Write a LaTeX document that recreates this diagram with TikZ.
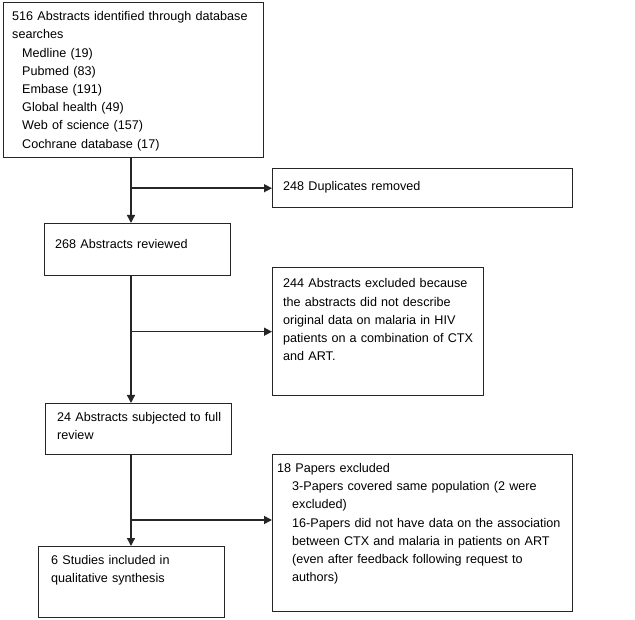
\documentclass[tikz,border=0pt]{standalone}
\usepackage{fontspec}
\setmainfont{Liberation Sans}
\usetikzlibrary{arrows.meta}
\begin{document}
\begin{tikzpicture}[x=1pt,y=-1pt,
  box/.style={draw=black!85,line width=1.4pt,inner sep=0pt,anchor=north west},
  txt/.style={anchor=base west,inner sep=0pt,align=left,text width=#1,font=\fontsize{12.6}{18.2}\selectfont},
  arr/.style={draw=black!85,line width=1.4pt,-{Triangle[length=8pt,width=8pt]}}]
\useasboundingbox (0,0) rectangle (635,620);
% boxes
\node[box,minimum width=260pt,minimum height=155pt] (b1) at (3,2) {};
\node[box,minimum width=300pt,minimum height=39pt] (dup) at (272,168) {};
\node[box,minimum width=186pt,minimum height=52pt] (r268) at (44,223) {};
\node[box,minimum width=211pt,minimum height=128pt] (ex244) at (272,267) {};
\node[box,minimum width=186pt,minimum height=51pt] (f24) at (45,403) {};
\node[box,minimum width=300pt,minimum height=157pt] (ex18) at (272,454) {};
\node[box,minimum width=186pt,minimum height=71pt] (inc6) at (38,546) {};
% texts
\node[txt=250pt] (t1) at (12,20.7) {516 Abstracts identified through database\\searches\\
\hspace*{10pt}Medline (19)\\\hspace*{10pt}Pubmed (83)\\\hspace*{10pt}Embase (191)\\
\hspace*{10pt}Global health (49)\\\hspace*{10pt}Web of science (157)\\\hspace*{10pt}Cochrane database (17)};
\node[txt=280pt] (tdup) at (283,190.7) {248 Duplicates removed};
\node[txt=180pt] (t268) at (55,249) {268 Abstracts reviewed};
\node[txt=200pt] (t244) at (283,288) {244 Abstracts excluded because\\the abstracts did not describe\\original data on malaria in HIV\\patients on a combination of CTX\\and ART.};
\node[txt=180pt] (t24) at (57,421) {24 Abstracts subjected to full\\review};
\node[txt=340pt] (t18) at (277,472.6) {18 Papers excluded\\
\hspace*{15pt}3-Papers covered same population (2 were\\\hspace*{15pt}excluded)\\
\hspace*{15pt}16-Papers did not have data on the association\\\hspace*{15pt}between CTX and malaria in patients on ART\\
\hspace*{15pt}(even after feedback following request to\\\hspace*{15pt}authors)};
\node[txt=180pt] (t6) at (51,564) {6 Studies included in\\qualitative synthesis};
% connectors
\coordinate (X) at (131,0);
\coordinate (br3) at (131,520);
\draw[arr] (b1.south -| X) -- (r268.north -| X);
\draw[arr] (X |- dup.west) -- (dup.west);
\draw[arr] (r268.south -| X) -- (f24.north -| X);
\draw[arr] (X |- ex244.west) -- (ex244.west);
\draw[arr] (f24.south -| X) -- (inc6.north -| X);
\draw[arr] (br3) -- (ex18.west |- br3);
\end{tikzpicture}
\end{document}
